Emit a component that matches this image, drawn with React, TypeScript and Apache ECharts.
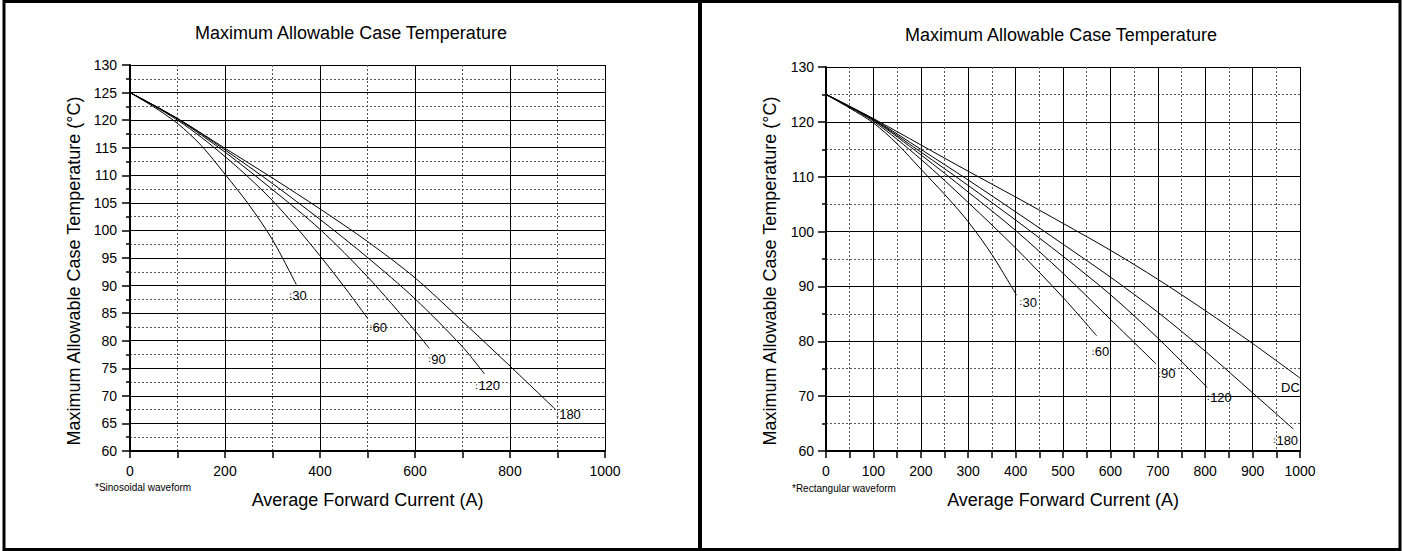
import React, { useEffect, useRef } from "react";
import * as echarts from "echarts";

const FONT = "'Liberation Sans', Arial, Helvetica, sans-serif";

const TITLE = "Maximum Allowable Case Temperature";
const Y_NAME = "Maximum Allowable Case Temperature (°C)";
const X_NAME = "Average Forward Current (A)";
const NOTE_L = "*Sinosoidal waveform";
const NOTE_R = "*Rectangular waveform";

// ---- Left chart: sinusoidal waveform ----
const sinX30 = [0, 50, 100, 150, 200, 250, 300, 350];
const sinT30 = [125, 122.4, 119.4, 115.4, 110.2, 104.7, 98.3, 90.2];
const sinX60 = [0, 50, 100, 150, 200, 250, 300, 350, 400, 450, 500];
const sinT60 = [125, 122.6, 120.0, 116.9, 113.4, 109.6, 105.4, 100.6, 95.4, 89.9, 84.1];
const sinX90 = [0, 100, 200, 300, 400, 500, 600, 630];
const sinT90 = [125, 120.2, 114.2, 107.4, 100.2, 91.6, 81.8, 78.6];
const sinX120 = [0, 100, 200, 300, 400, 500, 600, 700, 746];
const sinT120 = [125, 120.3, 114.6, 108.5, 102.0, 95.1, 87.6, 78.9, 74.0];
const sinX180 = [0, 100, 200, 300, 400, 500, 600, 700, 800, 895];
const sinT180 = [125, 120.3, 114.9, 109.5, 103.9, 98.0, 91.4, 83.5, 75.4, 67.6];
const sinLabels = ["30", "60", "90", "120", "180"];

// ---- Right chart: rectangular waveform ----
const recX30 = [0, 50, 100, 150, 200, 250, 300, 350, 402];
const recT30 = [125, 122.5, 119.8, 116.0, 111.4, 106.8, 101.8, 95.8, 88.4];
const recX60 = [0, 100, 200, 300, 400, 500, 571];
const recT60 = [125, 120.1, 113.2, 105.3, 97.0, 88.0, 81.0];
const recX90 = [0, 100, 200, 300, 400, 500, 600, 696];
const recT90 = [125, 120.3, 114.0, 107.2, 100.2, 92.4, 84.0, 75.9];
const recX120 = [0, 100, 200, 300, 400, 500, 600, 700, 804];
const recT120 = [125, 120.4, 114.5, 108.4, 102.1, 95.5, 88.5, 80.6, 71.6];
const recX180 = [0, 100, 200, 300, 400, 500, 600, 700, 800, 900, 986];
const recT180 = [125, 120.5, 115.0, 109.4, 103.6, 97.7, 91.7, 85.3, 78.2, 70.6, 64.0];
const recXDC = [0, 100, 200, 300, 400, 500, 600, 700, 800, 900, 1000];
const recTDC = [125, 120.6, 115.8, 111.0, 106.3, 101.5, 96.6, 91.3, 85.6, 79.6, 73.3];
const recLabels = ["30", "60", "90", "120", "180", "DC"];

const pairs = (xs: number[], ys: number[]) => xs.map((x, i) => [x, ys[i]]);

const sinData = [
  pairs(sinX30, sinT30),
  pairs(sinX60, sinT60),
  pairs(sinX90, sinT90),
  pairs(sinX120, sinT120),
  pairs(sinX180, sinT180),
];
const recData = [
  pairs(recX30, recT30),
  pairs(recX60, recT60),
  pairs(recX90, recT90),
  pairs(recX120, recT120),
  pairs(recX180, recT180),
  pairs(recXDC, recTDC),
];

// label offsets (px) relative to each curve's end point: left edge, vertical middle
const sinOffsets = [[-7, 11], [2, 9], [-1, 11], [-9, 12], [1, 5]];
const recOffsets = [[3, 7], [-5, 16], [2, 10], [0, 10], [-20, 11], [-19, 9]];

function xAxisCfg(gridIndex: number, interval: number) {
  return {
    gridIndex,
    type: "value",
    min: 0,
    max: 1000,
    interval,
    name: X_NAME,
    nameLocation: "middle",
    nameGap: 40,
    nameTextStyle: { fontSize: 18, color: "#000", fontFamily: FONT },
    axisLine: { show: true, onZero: false, lineStyle: { color: "#000", width: 2 } },
    axisTick: { show: true, length: 7, lineStyle: { color: "#000", width: 1.5 } },
    minorTick: { show: true, splitNumber: 2, length: 7, lineStyle: { color: "#000", width: 1.5 } },
    splitLine: { show: true, lineStyle: { color: "#000", width: 1 } },
    minorSplitLine: { show: true, lineStyle: { color: "#555", width: 1, type: [2, 2] } },
    axisLabel: {
      color: "#000",
      fontSize: 14,
      margin: 13,
      fontFamily: FONT,
      formatter: (v: number) => String(v),
    },
  };
}

function yAxisCfg(gridIndex: number, interval: number, margin: number) {
  return {
    gridIndex,
    type: "value",
    min: 60,
    max: 130,
    interval,
    axisLine: { show: true, onZero: false, lineStyle: { color: "#000", width: 2 } },
    axisTick: { show: true, length: 8, lineStyle: { color: "#000", width: 1.5 } },
    minorTick: { show: true, splitNumber: 2, length: 4, lineStyle: { color: "#000", width: 1.5 } },
    splitLine: { show: true, lineStyle: { color: "#000", width: 1 } },
    minorSplitLine: { show: true, lineStyle: { color: "#555", width: 1, type: [2, 2] } },
    axisLabel: {
      color: "#000",
      fontSize: 14,
      margin,
      fontFamily: FONT,
      formatter: (v: number) => String(v),
    },
  };
}

function lineSeries(data: number[][], idx: number) {
  return {
    type: "line",
    xAxisIndex: idx,
    yAxisIndex: idx,
    data,
    showSymbol: false,
    symbol: "none",
    smooth: 0.3,
    silent: true,
    lineStyle: { color: "#000", width: 1 },
    z: 5,
  };
}

export default function App() {
  const ref = useRef<HTMLDivElement>(null);

  useEffect(() => {
    const chart = echarts.init(ref.current!, null, { renderer: "svg" });
    chart.setOption({
      animation: false,
      backgroundColor: "#fff",
      grid: [
        { left: 130, top: 65, width: 475, height: 386 },
        { left: 826, top: 67, width: 474, height: 384 },
      ],
      xAxis: [xAxisCfg(0, 200), xAxisCfg(1, 100)],
      yAxis: [yAxisCfg(0, 5, 13), yAxisCfg(1, 10, 12)],
      series: [
        ...sinData.map((d) => lineSeries(d, 0)),
        ...recData.map((d) => lineSeries(d, 1)),
      ],
    });

    const textStyle = (text: string, size: number, align = "center") => ({
      text,
      fontSize: size,
      fontFamily: FONT,
      fill: "#000",
      align,
      verticalAlign: "middle",
    });

    const graphics: any[] = [
      {
        type: "rect",
        shape: { x: 4, y: 1.5, width: 1396, height: 548 },
        style: { fill: "none", stroke: "#000", lineWidth: 3 },
        silent: true,
      },
      {
        type: "line",
        shape: { x1: 700, y1: 0, x2: 700, y2: 551 },
        style: { stroke: "#000", lineWidth: 4 },
        silent: true,
      },
      { type: "text", x: 351, y: 33, style: textStyle(TITLE, 18) },
      { type: "text", x: 1061, y: 35, style: textStyle(TITLE, 18) },
      { type: "text", x: 74, y: 271, rotation: Math.PI / 2, style: textStyle(Y_NAME, 18) },
      { type: "text", x: 770, y: 271, rotation: Math.PI / 2, style: textStyle(Y_NAME, 18) },
      { type: "text", x: 95, y: 487, style: textStyle(NOTE_L, 10, "left") },
      { type: "text", x: 792, y: 488, style: textStyle(NOTE_R, 10, "left") },
    ];

    const addLabels = (data: number[][][], labels: string[], offs: number[][], gridIndex: number) => {
      data.forEach((d, i) => {
        const last = d[d.length - 1];
        const p = chart.convertToPixel({ gridIndex }, last) as number[];
        const txt = labels[i] === "DC" ? "DC" : "{m|ː}" + labels[i];
        graphics.push({
          type: "text",
          x: p[0] + offs[i][0],
          y: p[1] + offs[i][1],
          z: 10,
          style: {
            text: txt,
            fontSize: 13,
            fontFamily: FONT,
            fill: "#000",
            align: "left",
            verticalAlign: "middle",
            rich: { m: { fontSize: 9, fontFamily: "DejaVu Sans", fill: "#000" } },
          },
        });
      });
    };
    addLabels(sinData, sinLabels, sinOffsets, 0);
    addLabels(recData, recLabels, recOffsets, 1);

    chart.setOption({ graphic: graphics });

    return () => chart.dispose();
  }, []);

  return (
    <div style={{ position: "absolute", left: 0, top: 0, width: 1403, height: 551, background: "#fff" }}>
      <div ref={ref} style={{ width: 1403, height: 551 }} />
    </div>
  );
}
